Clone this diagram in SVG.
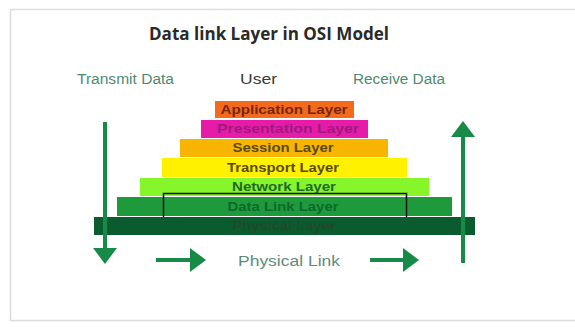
<svg xmlns="http://www.w3.org/2000/svg" width="575" height="327" viewBox="0 0 575 327">
<style>
.lbl{font-family:"Liberation Sans",Arial,sans-serif;font-size:14px;fill:#4f8a6e}
.lyr{font-family:"Liberation Sans",Arial,sans-serif;font-size:12px;font-weight:bold;text-anchor:middle}
.ar{stroke:#178a48;stroke-width:4;fill:none}
</style>
<defs>
<marker id="ah" viewBox="0 0 16 24" refX="0" refY="12" markerWidth="16" markerHeight="24" markerUnits="userSpaceOnUse" orient="auto">
<path d="M0,0 L16,12 L0,24 z" fill="#178a48"/>
</marker>
</defs>
<rect x="0" y="0" width="575" height="327" fill="#fff"/>
<rect x="10.5" y="9.5" width="575" height="311" fill="#fff" stroke="#dcdcdc" stroke-width="1.5"/>
<text x="269" y="40" font-family="'Open Sans','Liberation Sans',sans-serif" font-size="17" font-weight="bold" fill="#2a2a2a" text-anchor="middle" textLength="240" lengthAdjust="spacingAndGlyphs">Data link Layer in OSI Model</text>
<text class="lbl" x="77" y="84" textLength="97" lengthAdjust="spacingAndGlyphs">Transmit Data</text>
<text class="lbl" x="240" y="84" textLength="37" lengthAdjust="spacingAndGlyphs" style="fill:#3a3a3a">User</text>
<text class="lbl" x="353" y="84" textLength="92" lengthAdjust="spacingAndGlyphs">Receive Data</text>
<g id="application"><rect x="215" y="101" width="139" height="17" fill="#f26b1d"/><text class="lyr" x="284" y="114" fill="#7a2410" textLength="127" lengthAdjust="spacingAndGlyphs">Application Layer</text></g>
<g id="presentation"><rect x="201" y="120" width="167" height="18" fill="#e61ca8"/><text class="lyr" x="288" y="133" fill="#a01a7e" textLength="142" lengthAdjust="spacingAndGlyphs">Presentation Layer</text></g>
<g id="session"><rect x="180" y="139" width="208" height="18" fill="#f7b500"/><text class="lyr" x="283" y="152" fill="#5a4a14" textLength="101" lengthAdjust="spacingAndGlyphs">Session Layer</text></g>
<g id="transport"><rect x="162" y="158" width="245" height="19" fill="#fff100"/><text class="lyr" x="283" y="172" fill="#5a4a00" textLength="112" lengthAdjust="spacingAndGlyphs">Transport Layer</text></g>
<g id="network"><rect x="140" y="178" width="289" height="18" fill="#86f52a"/><text class="lyr" x="284" y="191" fill="#1d6a2a" textLength="104" lengthAdjust="spacingAndGlyphs">Network Layer</text></g>
<g id="datalink"><rect x="117" y="197" width="335" height="19" fill="#1e9a3c"/><text class="lyr" x="283" y="211" fill="#0b6a2a" textLength="111" lengthAdjust="spacingAndGlyphs">Data Link Layer</text><rect x="163.5" y="193.5" width="243" height="28" fill="none" stroke="#111" stroke-width="1.5"/></g>
<g id="physical"><rect x="94" y="217" width="381" height="18" fill="#0a5c2e"/><text class="lyr" x="284" y="230" fill="#1f4a2a" textLength="103" lengthAdjust="spacingAndGlyphs">Physical Layer</text></g>
<text class="lbl" x="238" y="266" textLength="102" lengthAdjust="spacingAndGlyphs" style="fill:#5f8a7a">Physical Link</text>
<g id="connectors">
<line class="ar" x1="105" y1="122" x2="105" y2="248" marker-end="url(#ah)"/>
<line class="ar" x1="463" y1="263" x2="463" y2="137" marker-end="url(#ah)"/>
<line class="ar" x1="156" y1="260" x2="190" y2="260" marker-end="url(#ah)"/>
<line class="ar" x1="370" y1="260" x2="403" y2="260" marker-end="url(#ah)"/>
</g>
</svg>
